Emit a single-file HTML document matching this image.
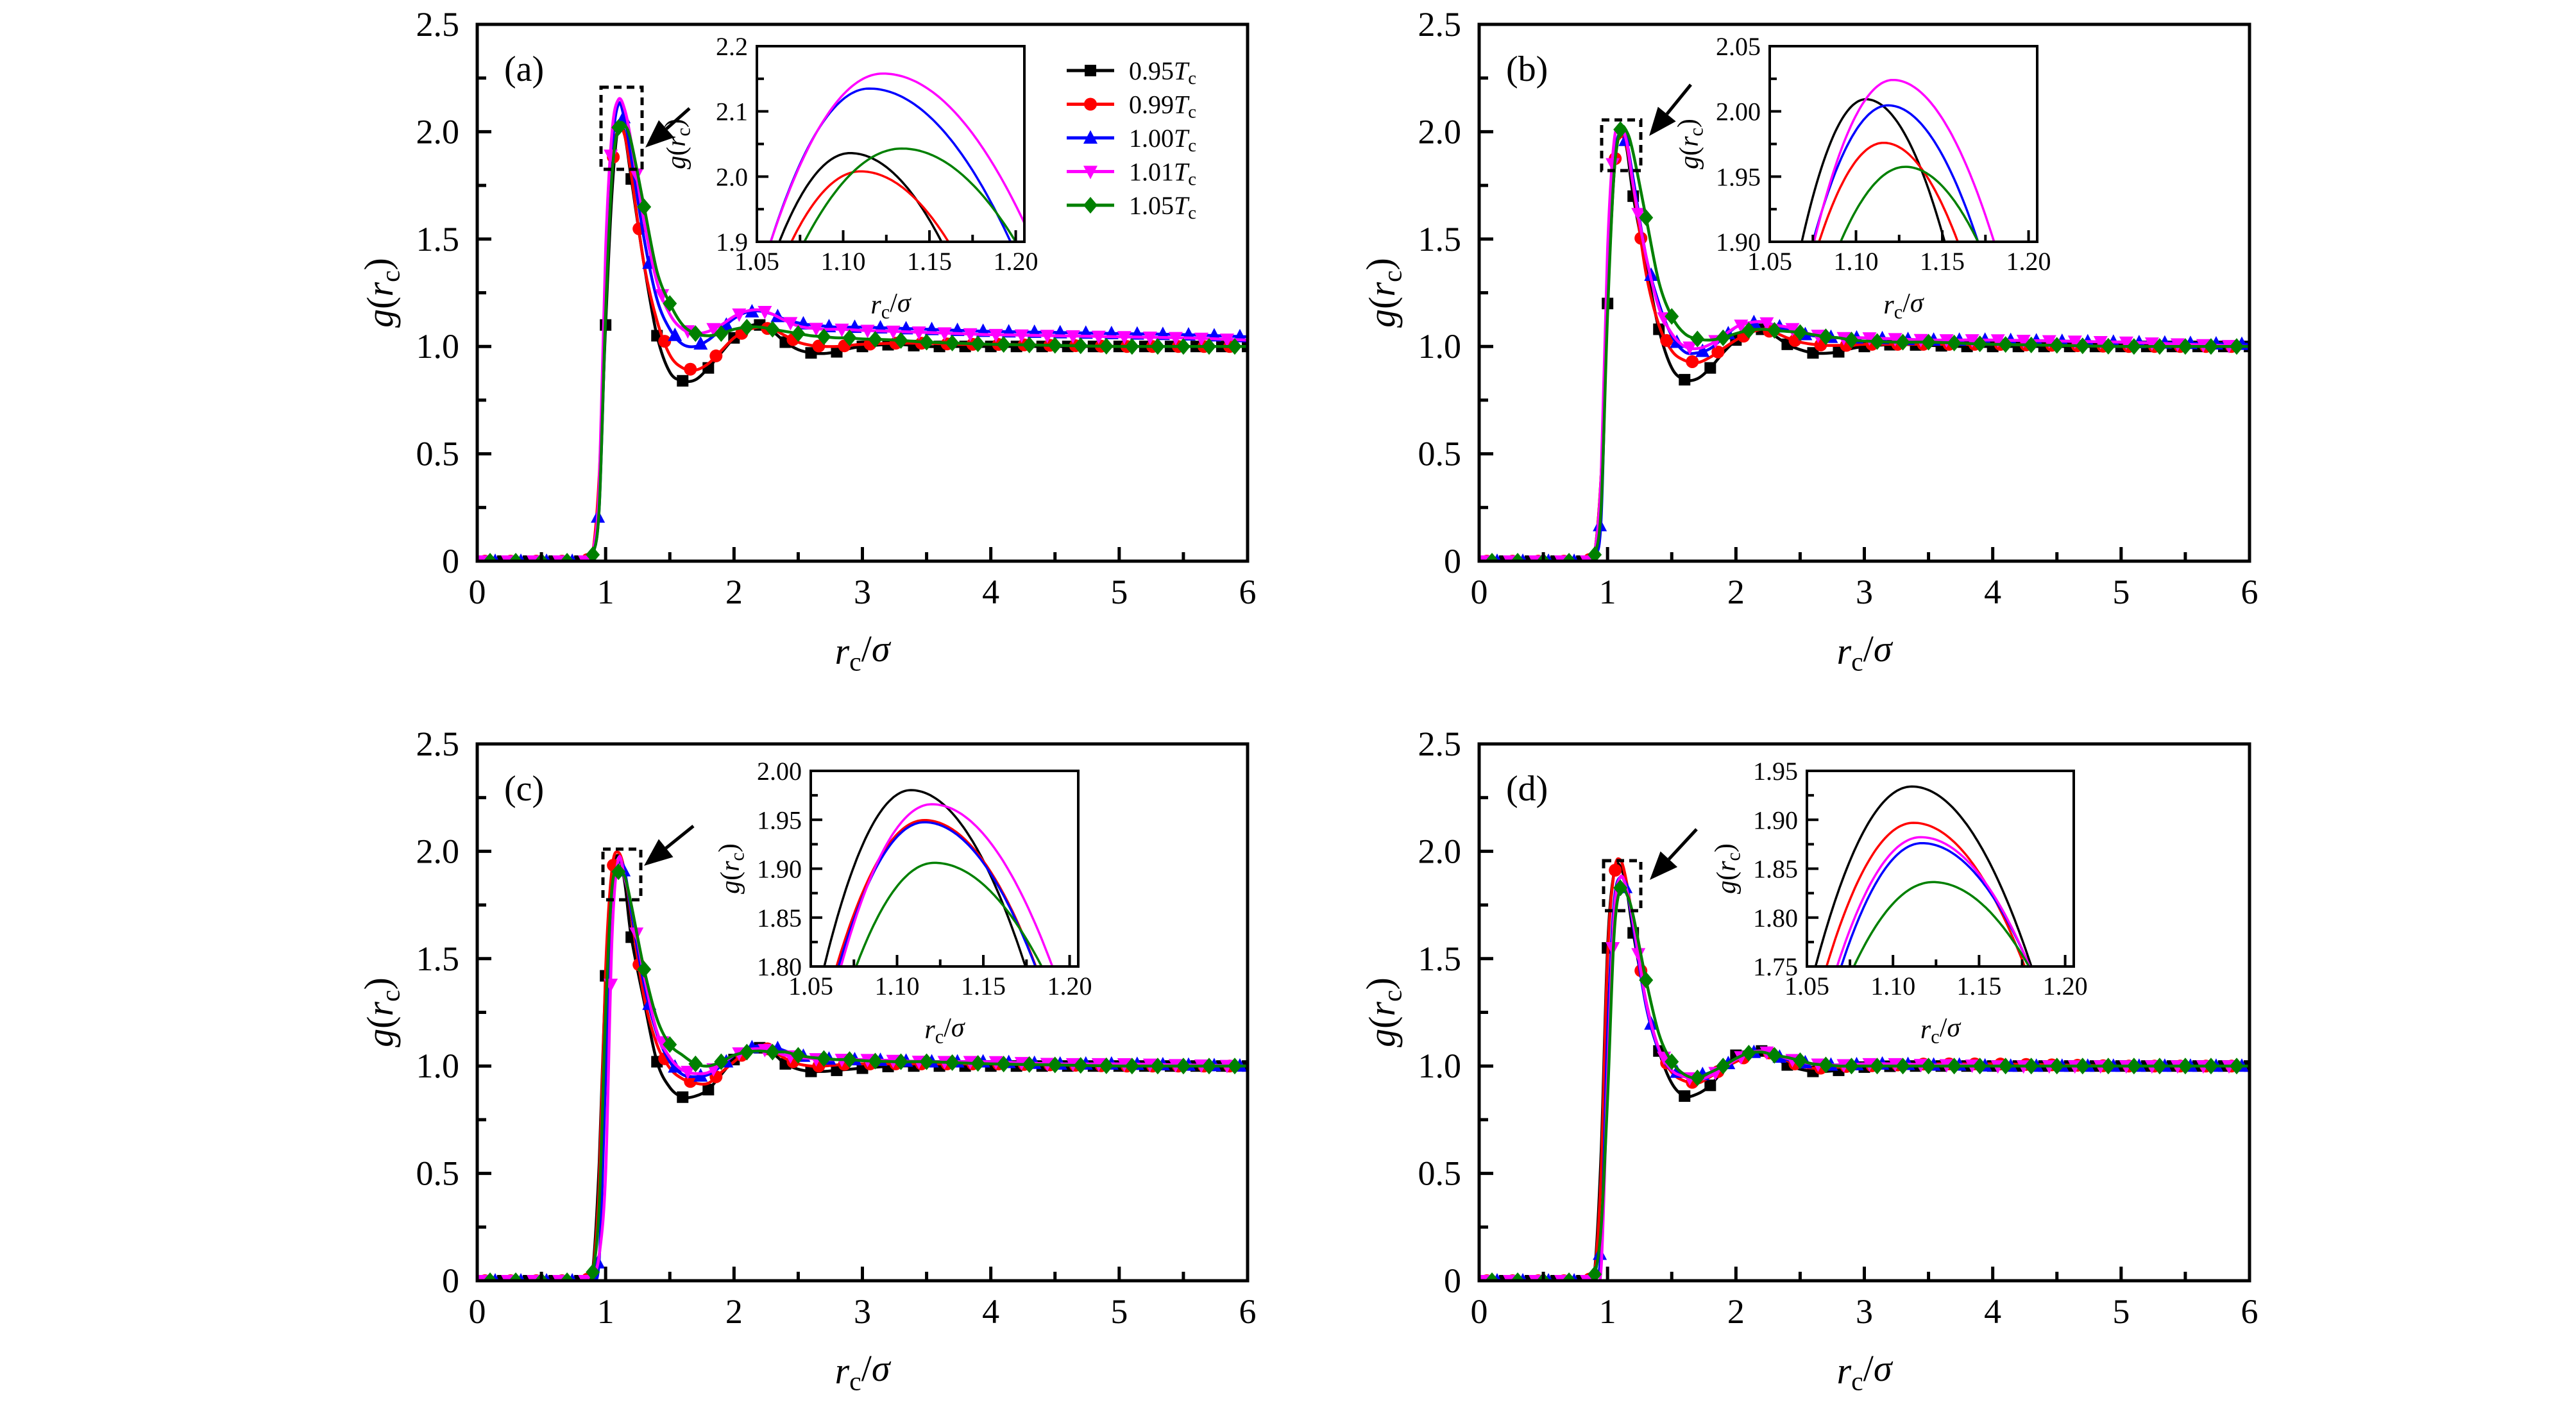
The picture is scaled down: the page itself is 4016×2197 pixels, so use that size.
<!DOCTYPE html>
<html><head><meta charset="utf-8"><title>g(r) panels</title>
<style>
html,body{margin:0;padding:0;background:#fff;}
svg{display:block;font-family:"Liberation Serif",serif;}
</style></head>
<body>
<svg id="fig" xmlns="http://www.w3.org/2000/svg" width="4016" height="2197" viewBox="0 0 4016 2197">
<rect x="0" y="0" width="4016" height="2197" fill="#fff"/>
</svg>
<script>
// ---------- DATA ----------
const xGrid = [0,0.2,0.4,0.6,0.8,0.85,0.9,0.95,1.0,1.05,1.1,1.15,1.2,1.3,1.4,1.5,1.6,1.7,1.8,1.9,2.0,2.1,2.2,2.3,2.4,2.5,2.6,2.7,2.8,2.9,3.0,3.25,3.5,3.75,4,4.5,5,5.5,6];
const seriesNames = ["0.95","0.99","1.00","1.01","1.05"];
const seriesColors = ["#000000","#ff0000","#0000ff","#ff00ff","#008000"];

const a_095 = [0,0,0,0,0,0,0.04,0.35,1.1,1.72,2.03,1.98,1.78,1.38,1.05,0.88,0.84,0.845,0.9,0.97,1.04,1.09,1.1,1.07,1.02,0.985,0.97,0.967,0.975,0.99,1.0,1.01,1.0,1.0,1.0,1.0,1.0,1.0,1.0];
const a_099 = [0,0,0,0,0,0,0.04,0.4,1.2,1.85,2.01,1.98,1.8,1.38,1.12,0.96,0.9,0.89,0.92,0.98,1.04,1.075,1.09,1.08,1.05,1.02,1.005,1.0,1.0,1.005,1.01,1.015,1.015,1.01,1.01,1.005,1.0,1.0,1.0];
const a_100 = [0,0,0,0,0,0,0.03,0.25,1.15,1.9,2.13,2.05,1.88,1.5,1.22,1.08,1.01,1.0,1.03,1.08,1.13,1.16,1.165,1.15,1.125,1.11,1.1,1.095,1.09,1.09,1.09,1.085,1.08,1.075,1.07,1.065,1.06,1.055,1.045];
const a_101 = [0,0,0,0,0,0,0.04,0.35,1.45,2.0,2.15,2.1,1.95,1.58,1.3,1.15,1.08,1.06,1.07,1.1,1.14,1.165,1.17,1.15,1.12,1.095,1.085,1.08,1.08,1.078,1.075,1.07,1.065,1.06,1.055,1.05,1.045,1.04,1.03];
const a_105 = [0,0,0,0,0,0,0.03,0.25,1.15,1.8,2.02,2.03,1.95,1.65,1.35,1.2,1.1,1.06,1.05,1.06,1.08,1.09,1.09,1.08,1.07,1.06,1.05,1.045,1.04,1.04,1.035,1.03,1.02,1.015,1.01,1.005,1.0,1.0,1.0];

const b_095 = [0,0,0,0,0,0,0.04,0.4,1.2,1.8,2.0,1.92,1.7,1.38,1.08,0.9,0.845,0.85,0.9,0.97,1.03,1.07,1.08,1.05,1.01,0.985,0.97,0.968,0.975,0.99,1.0,1.01,1.005,1.0,1.0,1.0,1.0,1.0,1.0];
const b_099 = [0,0,0,0,0,0,0.04,0.4,1.25,1.85,1.975,1.93,1.75,1.34,1.1,0.98,0.935,0.925,0.95,0.99,1.03,1.06,1.08,1.065,1.04,1.02,1.01,1.005,1.005,1.005,1.01,1.01,1.01,1.01,1.01,1.005,1.0,1.0,1.0];
const b_100 = [0,0,0,0,0,0,0.03,0.2,1.25,1.85,2.0,1.95,1.78,1.42,1.2,1.05,0.975,0.97,0.99,1.04,1.09,1.11,1.115,1.1,1.08,1.06,1.05,1.045,1.04,1.04,1.04,1.035,1.03,1.03,1.03,1.025,1.02,1.015,1.01];
const b_101 = [0,0,0,0,0,0,0.04,0.4,1.45,1.95,2.02,1.95,1.75,1.42,1.18,1.06,1.0,0.99,1.01,1.05,1.09,1.11,1.115,1.1,1.09,1.07,1.055,1.045,1.04,1.04,1.04,1.035,1.03,1.03,1.03,1.025,1.02,1.01,1.0];
const b_105 = [0,0,0,0,0,0,0.03,0.25,1.15,1.8,2.01,2.0,1.9,1.6,1.3,1.14,1.06,1.035,1.03,1.04,1.06,1.075,1.08,1.075,1.07,1.065,1.055,1.045,1.04,1.03,1.025,1.02,1.02,1.015,1.01,1.005,1.0,1.0,1.0];

const c_095 = [0,0,0,0,0,0,0.05,0.55,1.42,1.88,1.98,1.85,1.6,1.3,1.02,0.9,0.855,0.86,0.89,0.96,1.03,1.07,1.085,1.06,1.01,0.985,0.975,0.975,0.98,0.985,0.99,1.0,1.0,1.0,1.0,1.0,1.0,1.0,1.0];
const c_099 = [0,0,0,0,0,0,0.04,0.45,1.45,1.92,1.995,1.9,1.7,1.32,1.1,0.99,0.94,0.92,0.92,0.97,1.02,1.07,1.095,1.07,1.035,1.01,1.0,1.0,1.005,1.01,1.01,1.01,1.01,1.01,1.01,1.005,1.0,1.0,1.0];
const c_100 = [0,0,0,0,0,0,0.02,0.1,0.95,1.7,1.95,1.9,1.72,1.38,1.15,1.02,0.96,0.95,0.96,1.0,1.05,1.08,1.095,1.09,1.07,1.05,1.04,1.035,1.03,1.03,1.03,1.025,1.02,1.02,1.02,1.01,1.01,1.005,1.0];
const c_101 = [0,0,0,0,0,0,0.02,0.12,0.5,1.6,1.965,1.87,1.75,1.42,1.16,1.04,0.98,0.965,0.97,1.01,1.05,1.075,1.08,1.07,1.05,1.04,1.035,1.03,1.03,1.03,1.03,1.025,1.02,1.02,1.02,1.01,1.01,1.005,1.0];
const c_105 = [0,0,0,0,0,0,0.04,0.35,1.25,1.83,1.905,1.88,1.75,1.45,1.22,1.1,1.05,1.01,1.0,1.02,1.05,1.065,1.07,1.065,1.065,1.05,1.04,1.035,1.03,1.03,1.025,1.02,1.02,1.015,1.01,1.005,1.0,1.0,1.0];

const d_095 = [0,0,0,0,0,0,0.05,0.6,1.55,1.9,1.93,1.82,1.62,1.3,1.07,0.92,0.86,0.87,0.91,0.98,1.05,1.07,1.07,1.04,1.005,0.985,0.975,0.975,0.98,0.99,0.995,1.0,1.0,1.0,1.0,1.0,1.0,1.0,1.0];
const d_099 = [0,0,0,0,0,0,0.04,0.5,1.5,1.9,1.96,1.85,1.66,1.3,1.08,0.97,0.93,0.92,0.95,0.99,1.02,1.05,1.07,1.055,1.025,1.0,0.99,0.99,0.995,1.0,1.0,1.005,1.01,1.01,1.01,1.005,1.0,1.0,1.0];
const d_100 = [0,0,0,0,0,0,0.02,0.15,1.15,1.75,1.88,1.82,1.65,1.28,1.07,0.98,0.96,0.955,0.97,1.0,1.03,1.06,1.07,1.05,1.03,1.02,1.01,1.005,1.005,1.005,1.01,1.01,1.005,1.005,1.0,1.0,1.0,1.0,1.0];
const d_101 = [0,0,0,0,0,0,0.01,0.06,0.95,1.7,1.88,1.82,1.67,1.3,1.08,0.98,0.95,0.935,0.955,0.99,1.03,1.06,1.07,1.055,1.035,1.02,1.01,1.005,1.005,1.005,1.01,1.01,1.005,1.005,1.0,1.0,1.0,1.0,1.0];
const d_105 = [0,0,0,0,0,0,0.03,0.25,0.85,1.6,1.83,1.8,1.7,1.4,1.15,1.02,0.96,0.945,0.97,1.0,1.035,1.06,1.065,1.05,1.04,1.025,1.01,1.005,1.0,1.0,1.0,1.0,1.0,1.0,1.0,1.0,1.0,1.0,1.0];

// inset arcs
const insetA_peakX = [1.104,1.110,1.115,1.123,1.134];
const insetA_peakY = [2.036,2.008,2.135,2.158,2.043];
const insetA_leftX = [1.063,1.070,1.058,1.058,1.0775];
const insetA_rightX = [1.157,1.161,1.197,1.210,1.200];

const insetB_peakX = [1.1057,1.116,1.1186,1.1214,1.1286];
const insetB_peakY = [2.0093,1.9759,2.0046,2.0241,1.9575];
const insetB_leftX = [1.0686,1.0786,1.075,1.0757,1.0911];
const insetB_rightX = [1.1514,1.159,1.1707,1.18,1.1707];

const insetC_peakX = [1.108,1.1158,1.1158,1.1201,1.1215];
const insetC_peakY = [1.9803,1.9497,1.9475,1.9659,1.9060];
const insetC_leftX = [1.0578,1.0649,1.0661,1.0675,1.0763];
const insetC_rightX = [1.1744,1.1805,1.1802,1.19,1.1838];

const insetD_peakX = [1.1109,1.1119,1.1168,1.1161,1.1232];
const insetD_peakY = [1.934,1.8969,1.8761,1.8822,1.8363];
const insetD_leftX = [1.055,1.0614,1.0699,1.0675,1.0773];
const insetD_rightX = [1.1804,1.1765,1.1794,1.1794,1.179];

const xTickLabels = ["0","1","2","3","4","5","6"];
const yTickLabels = ["0","0.5","1.0","1.5","2.0","2.5"];
const insetXTickLabels = ["1.05","1.10","1.15","1.20"];

// ---------- LAYOUT ----------
const NS = "http://www.w3.org/2000/svg";
const svg = document.getElementById("fig");
const PW = 1201, PH = 837, XMAX = 6, YMAX = 2.5;
const panels = [
  {id:"a", L:744, T:38, series:[a_095,a_099,a_100,a_101,a_105],
   inset:{L:1180,T:72,R:1597,B:377,ymin:1.9,ymax:2.2,step:0.1,minor:0.05,dec:1,px:insetA_peakX,py:insetA_peakY,lx:insetA_leftX,rx:insetA_rightX},
   box:[937,136,1001,264], arrow:[1075,169,1006,230], legend:true},
  {id:"b", L:2306, T:38, series:[b_095,b_099,b_100,b_101,b_105],
   inset:{L:2759,T:72,R:3176,B:377,ymin:1.9,ymax:2.05,step:0.05,minor:0.025,dec:2,px:insetB_peakX,py:insetB_peakY,lx:insetB_leftX,rx:insetB_rightX},
   box:[2497,187,2558,266], arrow:[2636,132,2571,212], legend:false},
  {id:"c", L:744, T:1160, series:[c_095,c_099,c_100,c_101,c_105],
   inset:{L:1264,T:1202,R:1681,B:1507,ymin:1.8,ymax:2.0,step:0.05,minor:0.025,dec:2,px:insetC_peakX,py:insetC_peakY,lx:insetC_leftX,rx:insetC_rightX},
   box:[940,1324,999,1403], arrow:[1081,1288,1004,1350], legend:false},
  {id:"d", L:2306, T:1160, series:[d_095,d_099,d_100,d_101,d_105],
   inset:{L:2817,T:1202,R:3233,B:1507,ymin:1.75,ymax:1.95,step:0.05,minor:0.025,dec:2,px:insetD_peakX,py:insetD_peakY,lx:insetD_leftX,rx:insetD_rightX},
   box:[2500,1342,2558,1420], arrow:[2645,1293,2572,1372], legend:false}
];
const markerOffsets = [0.0,0.06,0.14,0.04,0.10];
const markerStep = 0.2;
const seriesKeys = ["095","099","100","101","105"];

function el(tag, parent){ const e = document.createElementNS(NS, tag); parent.appendChild(e); return e; }
function setA(e, o){ for (const k in o) e.setAttribute(k, o[k]); return e; }

function interp(xs, ys, x){
  for (let i=0;i<xs.length-1;i++){
    if (x>=xs[i] && x<=xs[i+1]){ const t=(x-xs[i])/(xs[i+1]-xs[i]); return ys[i]+t*(ys[i+1]-ys[i]); }
  }
  return ys[ys.length-1];
}
function smoothPath(pts){
  let d = "M"+pts[0][0].toFixed(1)+","+pts[0][1].toFixed(1);
  for (let i=0;i<pts.length-1;i++){
    const p0=pts[Math.max(0,i-1)], p1=pts[i], p2=pts[i+1], p3=pts[Math.min(pts.length-1,i+2)];
    const c1=[p1[0]+(p2[0]-p0[0])/6, p1[1]+(p2[1]-p0[1])/6];
    const c2=[p2[0]-(p3[0]-p1[0])/6, p2[1]-(p3[1]-p1[1])/6];
    d += " C"+c1[0].toFixed(1)+","+c1[1].toFixed(1)+" "+c2[0].toFixed(1)+","+c2[1].toFixed(1)+" "+p2[0].toFixed(1)+","+p2[1].toFixed(1);
  }
  return d;
}
function drawMarker(g, type, cx, cy, color){
  const s = 9;
  let m;
  if (type===0){ m = el("rect", g); setA(m,{x:cx-s,y:cy-s,width:2*s,height:2*s}); }
  else if (type===1){ m = el("circle", g); setA(m,{cx:cx,cy:cy,r:s+1}); }
  else if (type===2){ m = el("polygon", g); setA(m,{points:`${cx},${cy-s-3} ${cx+s+2},${cy+s} ${cx-s-2},${cy+s}`}); }
  else if (type===3){ m = el("polygon", g); setA(m,{points:`${cx},${cy+s+3} ${cx+s+2},${cy-s} ${cx-s-2},${cy-s}`}); }
  else { m = el("polygon", g); setA(m,{points:`${cx},${cy-s-4} ${cx+s+2},${cy} ${cx},${cy+s+4} ${cx-s-2},${cy}`}); }
  m.setAttribute("fill", color);
  
  
}
function text(parent, x, y, html, size, anchor, name){
  const t = el("text", parent);
  setA(t,{x:x,y:y,"font-size":size,"text-anchor":anchor||"middle",fill:"#000"});
  t.innerHTML = html;
  
  
  return t;
}
const SUBC = '<tspan font-size="0.72em" dy="0.25em">c</tspan>';

panels.forEach(p => {
  const g = el("g", svg);
  
  
  const sx = v => p.L + v/XMAX*PW;
  const sy = v => p.T + PH - v/YMAX*PH;

  const cp = el("clipPath", g); cp.setAttribute("id","clip-"+p.id);
  const cr = el("rect", cp); setA(cr,{x:p.L,y:p.T,width:PW,height:PH});

  const sg = el("g", g);
  
  
  sg.setAttribute("clip-path","url(#clip-"+p.id+")");
  p.series.forEach((ys, si) => {
    const pts = xGrid.map((x,i)=>[sx(x), sy(ys[i])]);
    const path = el("path", sg);
    setA(path,{d:smoothPath(pts),fill:"none",stroke:seriesColors[si],"stroke-width":4.5,"stroke-linejoin":"round"});
    
    
    for (let x = markerOffsets[si]; x <= XMAX + 1e-9; x += markerStep){
      drawMarker(sg, si, sx(x), sy(interp(xGrid, ys, x)), seriesColors[si]);
    }
  });

  const fr = el("rect", g);
  setA(fr,{x:p.L,y:p.T,width:PW,height:PH,fill:"none",stroke:"#000","stroke-width":5});
  
  

  for (let i=0;i<=12;i++){
    const v=i*0.5, x=sx(v), len = i%2===0?22:14;
    const t = el("line", g); setA(t,{x1:x,y1:p.T+PH,x2:x,y2:p.T+PH-len,stroke:"#000","stroke-width":5});
    
    
  }
  xTickLabels.forEach((lab,i)=>{ text(g, sx(i), p.T+PH+66, lab, 54, "middle", "x-tick-label"); });
  for (let i=0;i<=10;i++){
    const v=i*0.25, y=sy(v), len = i%2===0?22:14;
    const t = el("line", g); setA(t,{x1:p.L,y1:y,x2:p.L+len,y2:y,stroke:"#000","stroke-width":5});
    
    
  }
  yTickLabels.forEach((lab,i)=>{ text(g, p.L-28, sy(i*0.5)+18, lab, 54, "end", "y-tick-label"); });

  text(g, p.L+PW/2, p.T+PH+160, '<tspan font-style="italic">r</tspan>'+SUBC+'<tspan dy="-0.25em">/</tspan><tspan font-style="italic">σ</tspan>', 58, "middle", "x-axis-title");
  const yt = text(g, 0, 0, '<tspan font-style="italic">g</tspan>(<tspan font-style="italic">r</tspan>'+SUBC+'<tspan dy="-0.25em">)</tspan>', 58, "middle", "y-axis-title");
  yt.setAttribute("transform", `translate(${p.L-132},${p.T+PH/2}) rotate(-90)`);

  text(g, p.L+42, p.T+88, "("+p.id+")", 56, "start", "panel-label");

  const b = p.box;
  const bx = el("rect", g); setA(bx,{x:b[0],y:b[1],width:b[2]-b[0],height:b[3]-b[1],fill:"none",stroke:"#000","stroke-width":5,"stroke-dasharray":"12 8"});
  
  
  const a = p.arrow;
  const dx=a[2]-a[0], dy=a[3]-a[1], L=Math.hypot(dx,dy), ux=dx/L, uy=dy/L;
  const hl=44, hw=18, bxp=a[2]-ux*hl, byp=a[3]-uy*hl;
  const al = el("line", g); setA(al,{x1:a[0],y1:a[1],x2:bxp,y2:byp,stroke:"#000","stroke-width":5});
  
  
  const ah = el("polygon", g); setA(ah,{points:`${a[2]},${a[3]} ${bxp-uy*hw},${byp+ux*hw} ${bxp+uy*hw},${byp-ux*hw}`,fill:"#000"});
  
  

  const ins = p.inset;
  const ig = el("g", g);
  
  
  const IW = ins.R-ins.L, IH = ins.B-ins.T;
  const IX0 = 1.05, IX1 = 1.205;
  const ix = v => ins.L + (v-IX0)/(IX1-IX0)*IW;
  const iy = v => ins.B - (v-ins.ymin)/(ins.ymax-ins.ymin)*IH;
  const icp = el("clipPath", ig); icp.setAttribute("id","iclip-"+p.id);
  const icr = el("rect", icp); setA(icr,{x:ins.L,y:ins.T,width:IW,height:IH});
  const icg = el("g", ig); icg.setAttribute("clip-path","url(#iclip-"+p.id+")");
  
  
  for (let si=0; si<5; si++){
    const pxk=ins.px[si], pyk=ins.py[si], lx=ins.lx[si], rx=ins.rx[si];
    const pts=[];
    for (let k=0;k<=40;k++){ const x=lx+(pxk-lx)*k/40; const t=(x-pxk)/(lx-pxk); pts.push([ix(x), iy(pyk-(pyk-ins.ymin)*t*t)]); }
    for (let k=1;k<=60;k++){ const x=pxk+(rx+0.01-pxk)*k/60; const t=(x-pxk)/(rx-pxk); pts.push([ix(x), iy(pyk-(pyk-ins.ymin)*t*t)]); }
    const pl = el("polyline", icg);
    setA(pl,{points:pts.map(q=>q[0].toFixed(1)+","+q[1].toFixed(1)).join(" "),fill:"none",stroke:seriesColors[si],"stroke-width":3.5});
    
    
  }
  const ifr = el("rect", ig); setA(ifr,{x:ins.L,y:ins.T,width:IW,height:IH,fill:"none",stroke:"#000","stroke-width":4});
  
  
  for (let k=1;k<=6;k++){
    const v=IX0+k*0.025, x=ix(v), len = k%2===0?18:11;
    const t = el("line", ig); setA(t,{x1:x,y1:ins.B,x2:x,y2:ins.B-len,stroke:"#000","stroke-width":4});
    
    
  }
  insetXTickLabels.forEach((lab,i)=>{ text(ig, ix(IX0+i*0.05), ins.B+44, lab, 40, "middle", "inset-x-tick-label"); });
  const nMinor = Math.round((ins.ymax-ins.ymin)/ins.minor);
  for (let k=0;k<=nMinor;k++){
    const v=ins.ymin+k*ins.minor, y=iy(v), major = (k % Math.round(ins.step/ins.minor))===0, len = major?18:11;
    const t = el("line", ig); setA(t,{x1:ins.L,y1:y,x2:ins.L+len,y2:y,stroke:"#000","stroke-width":4});
    
    
    if (major) text(ig, ins.L-14, y+14, v.toFixed(ins.dec), 40, "end", "inset-y-tick-label");
  }
  text(ig, ins.L+IW/2, ins.B+112, '<tspan font-style="italic">r</tspan>'+SUBC+'<tspan dy="-0.25em">/</tspan><tspan font-style="italic">σ</tspan>', 42, "middle", "inset-x-axis-title");
  const iyt = text(ig, 0, 0, '<tspan font-style="italic">g</tspan>(<tspan font-style="italic">r</tspan>'+SUBC+'<tspan dy="-0.25em">)</tspan>', 42, "middle", "inset-y-axis-title");
  iyt.setAttribute("transform", `translate(${ins.L-112},${ins.T+IH/2}) rotate(-90)`);

  if (p.legend){
    const lg = el("g", g);
    
    
    seriesNames.forEach((nm, si)=>{
      const y = 110 + si*52.5;
      const ln = el("line", lg); setA(ln,{x1:1663,y1:y,x2:1737,y2:y,stroke:seriesColors[si],"stroke-width":5});
      
      
      drawMarker(lg, si, 1700, y, seriesColors[si]);
      text(lg, 1760, y+14, nm+'<tspan font-style="italic">T</tspan>'+SUBC, 40, "start", "legend-entry-" + seriesKeys[si]);
    });
  }
});
</script>
</body></html>
